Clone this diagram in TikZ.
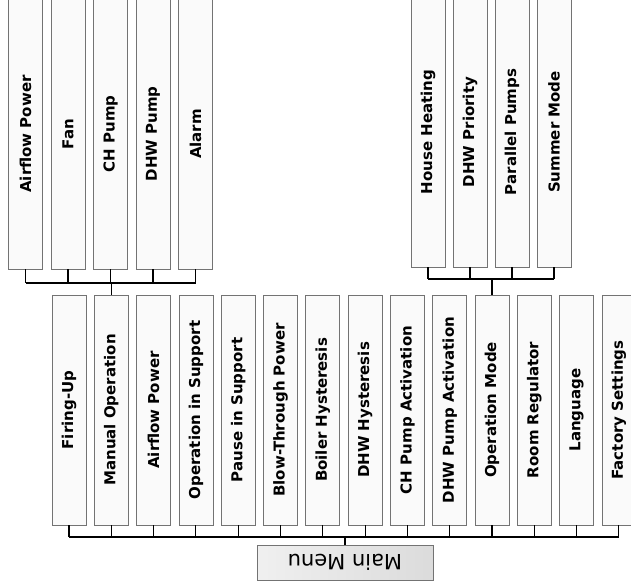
\documentclass[tikz,border=0pt]{standalone}
\usepackage{fontspec}
\setmainfont{DejaVu Sans}
\usepackage{graphicx}
\begin{document}
\begin{tikzpicture}[x=1pt,y=-1pt,
  menubox/.style={draw=black!55,line width=0.8pt,fill=gray!4,inner sep=0pt,
    minimum width=34pt,font=\bfseries\fontsize{15}{17}\selectfont},
  topbox/.style={menubox,minimum height=270pt},
  rowbox/.style={menubox,minimum height=230pt},
  link/.style={draw=black,line width=1.1pt},
  mainbox/.style={draw=black!55,line width=0.8pt,left color=gray!12,right color=gray!28,
    minimum width=176pt,minimum height=35pt,inner sep=0pt,font=\fontsize{21}{23}\selectfont}]
\useasboundingbox (0,0) rectangle (631,583);
\clip (0,0) rectangle (631,583);
\newcommand{\vt}[1]{\rotatebox{90}{#1}}
% top-left group
\node[topbox] (ta) at (25.5,134) {\vt{Airflow Power}};
\node[topbox] (tb) at (68,134) {\vt{Fan}};
\node[topbox] (tc) at (110.5,134) {\vt{CH Pump}};
\node[topbox] (td) at (153,134) {\vt{DHW Pump}};
\node[topbox] (te) at (195.5,134) {\vt{Alarm}};
% top-right group
\node[topbox] (ra) at (428,132) {\vt{House Heating}};
\node[topbox] (rb) at (470,132) {\vt{DHW Priority}};
\node[topbox] (rc) at (512,132) {\vt{Parallel Pumps}};
\node[topbox] (rd) at (554,132) {\vt{Summer Mode}};
% main row
\node[rowbox] (m1) at (69,410) {\vt{Firing-Up}};
\node[rowbox] (m2) at (111.3,410) {\vt{Manual Operation}};
\node[rowbox] (m3) at (153.6,410) {\vt{Airflow Power}};
\node[rowbox] (m4) at (195.9,410) {\vt{Operation in Support}};
\node[rowbox] (m5) at (238.2,410) {\vt{Pause in Support}};
\node[rowbox] (m6) at (280.5,410) {\vt{Blow-Through Power}};
\node[rowbox] (m7) at (322.8,410) {\vt{Boiler Hysteresis}};
\node[rowbox] (m8) at (365.1,410) {\vt{DHW Hysteresis}};
\node[rowbox] (m9) at (407.4,410) {\vt{CH Pump Activation}};
\node[rowbox] (m10) at (449.7,410) {\vt{DHW Pump Activation}};
\node[rowbox] (m11) at (492,410) {\vt{Operation Mode}};
\node[rowbox] (m12) at (534.3,410) {\vt{Room Regulator}};
\node[rowbox] (m13) at (576.6,410) {\vt{Language}};
\node[rowbox] (m14) at (618.9,410) {\vt{Factory Settings}};
% main menu
\node[mainbox] (mm) at (345,562.5) {\rotatebox{180}{Main Menu}};
% bus levels
\coordinate (busT) at (0,283);
\coordinate (busR) at (0,279);
\coordinate (busM) at (0,537);
% top-left connectors
\foreach \n in {ta,tb,tc,td,te} {\draw[link] (\n.south) -- (\n.south |- busT);}
\draw[link] (ta.south |- busT) -- (te.south |- busT);
\draw[link] (m2.north |- busT) -- (m2.north);
% top-right connectors
\foreach \n in {ra,rb,rc,rd} {\draw[link] (\n.south) -- (\n.south |- busR);}
\draw[link] (ra.south |- busR) -- (rd.south |- busR);
\draw[link] (m11.north |- busR) -- (m11.north);
% main row connectors
\foreach \n in {m1,m2,m3,m4,m5,m6,m7,m8,m9,m10,m11,m12,m13,m14} {\draw[link] (\n.south) -- (\n.south |- busM);}
\draw[link] (m1.south |- busM) -- (m14.south |- busM);
\draw[link] (mm.north |- busM) -- (mm.north);
\end{tikzpicture}
\end{document}
